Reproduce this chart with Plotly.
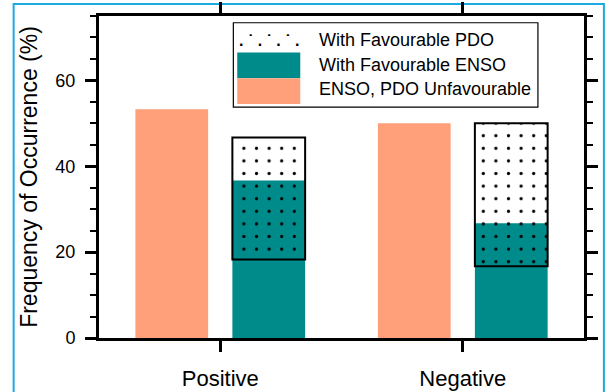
import plotly.graph_objects as go

categories = ["Positive", "Negative"]
unfavourable = [53.3, 50.0]
favourable_enso = [36.7, 26.7]
pdo_start = [18.3, 16.7]
pdo_end = [46.7, 50.0]
pdo_length = [e - s for s, e in zip(pdo_start, pdo_end)]

legend_labels = ["With Favourable PDO", "With Favourable ENSO", "ENSO, PDO Unfavourable"]
y_ticks = [0, 20, 40, 60]

TEAL = "#008B8B"
SALMON = "#FFA07A"
FONT = "Liberation Sans, Arial, Helvetica, sans-serif"

fig = go.Figure()
fig.add_trace(go.Bar(
    x=categories, y=unfavourable, name=legend_labels[2],
    offset=-0.35, width=0.3, marker=dict(color=SALMON, line=dict(width=0)),
    showlegend=False,
))
fig.add_trace(go.Bar(
    x=categories, y=favourable_enso, name=legend_labels[1],
    offset=0.05, width=0.3, marker=dict(color=TEAL, line=dict(width=0)),
    showlegend=False,
))
fig.add_trace(go.Bar(
    x=categories, y=pdo_length, base=pdo_start, name=legend_labels[0],
    offset=0.05, width=0.3,
    marker=dict(
        color="rgba(0,0,0,0)",
        line=dict(color="black", width=2),
        pattern=dict(shape=".", size=12.6, solidity=0.05, fgcolor="black",
                     bgcolor="rgba(0,0,0,0)", fillmode="replace"),
    ),
    showlegend=False,
))

shapes = []
annotations = []
# outer light-blue frame
shapes.append(dict(type="rect", xref="paper", yref="paper",
                   x0=-0.176, x1=1.041, y0=-0.5, y1=1.037,
                   line=dict(color="#1BAAE2", width=2), fillcolor="rgba(0,0,0,0)", layer="below"))
# manual legend box
shapes.append(dict(type="rect", xref="paper", yref="paper",
                   x0=0.277, x1=0.905, y0=0.717, y1=0.979,
                   line=dict(color="black", width=1.2), fillcolor="white", layer="above"))
shapes.append(dict(type="rect", xref="paper", yref="paper",
                   x0=0.285, x1=0.415, y0=0.807, y1=0.887,
                   line=dict(width=0), fillcolor=TEAL, layer="above"))
shapes.append(dict(type="rect", xref="paper", yref="paper",
                   x0=0.285, x1=0.415, y0=0.727, y1=0.807,
                   line=dict(width=0), fillcolor=SALMON, layer="above"))
annotations.append(dict(xref="paper", yref="paper", x=0.35, y=0.925,
                        text="<b>.&nbsp;˙&nbsp;.&nbsp;˙&nbsp;.&nbsp;˙&nbsp;.</b>", showarrow=False,
                        font=dict(family=FONT, size=16, color="black"),
                        xanchor="center", yanchor="middle"))
for label, yy in zip(legend_labels, [0.925, 0.848, 0.772]):
    annotations.append(dict(xref="paper", yref="paper", x=0.45, y=yy, text=label,
                            showarrow=False, xanchor="left", yanchor="middle",
                            font=dict(family=FONT, size=18, color="black")))

fig.update_layout(
    width=606, height=392,
    margin=dict(l=99, r=22, t=16, b=54),
    paper_bgcolor="white", plot_bgcolor="white",
    barmode="overlay",
    font=dict(family=FONT, color="black"),
    shapes=shapes, annotations=annotations,
)
fig.update_xaxes(
    type="category", range=[-0.5, 1.5], automargin=False,
    showline=True, linecolor="black", linewidth=3, mirror="ticks",
    ticks="outside", ticklen=11, tickwidth=2.5, tickcolor="black",
    showgrid=False, zeroline=False,
    ticklabelstandoff=8,
    tickfont=dict(family=FONT, size=22, color="black"),
)
fig.update_yaxes(
    range=[0, 75], tickvals=y_ticks, automargin=False,
    showline=True, linecolor="black", linewidth=3, mirror="ticks",
    ticks="outside", ticklen=11, tickwidth=2.5, tickcolor="black",
    minor=dict(dtick=5, ticks="outside", ticklen=6, tickwidth=1.5, tickcolor="black"),
    showgrid=False, zeroline=False,
    ticklabelstandoff=6,
    tickfont=dict(family=FONT, size=18, color="black"),
    title=dict(text="Frequency of Occurrence (%)", standoff=12,
               font=dict(family=FONT, size=23, color="black")),
)

fig.write_html("out.html", config={"displayModeBar": False},
               post_script="document.body.style.margin='0';")
